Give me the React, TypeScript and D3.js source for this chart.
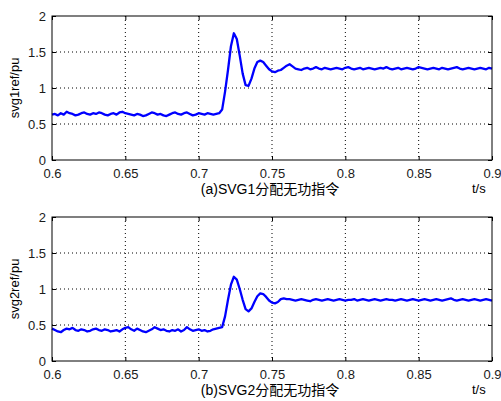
import React, { useRef, useEffect } from "react";
import * as d3 from "d3";

// sampled every 2 ms from 0.6 s to 0.9 s
const T0 = 0.6;
const DT = 0.002;

const svg1Pre = [
  0.63, 0.64, 0.62, 0.65, 0.63, 0.67, 0.65, 0.64, 0.62, 0.63,
  0.65, 0.66, 0.64, 0.63, 0.65, 0.64, 0.66, 0.65, 0.63, 0.62,
  0.64, 0.65, 0.63, 0.66, 0.67, 0.65, 0.64, 0.63, 0.62, 0.64,
  0.63, 0.61, 0.62, 0.64, 0.66, 0.65, 0.63, 0.64, 0.62, 0.61,
  0.63, 0.65, 0.66, 0.64, 0.63, 0.65, 0.66, 0.64, 0.62, 0.63,
  0.65, 0.64, 0.63, 0.65, 0.64, 0.63, 0.64, 0.65,
];
const svg1Step = [
  0.7, 0.95, 1.25, 1.58, 1.76, 1.68, 1.45, 1.2, 1.04, 1.03,
  1.13, 1.27, 1.36, 1.38, 1.36, 1.31, 1.26, 1.23, 1.22, 1.24,
  1.25, 1.28, 1.31, 1.33, 1.3, 1.27, 1.26, 1.25,
];
const svg1Post = [
  1.27, 1.28, 1.26, 1.27, 1.29, 1.27, 1.26, 1.28, 1.27, 1.26,
  1.27, 1.28, 1.27, 1.26, 1.28, 1.29, 1.27, 1.26, 1.27, 1.28,
  1.26, 1.27, 1.28, 1.27, 1.26, 1.27, 1.28, 1.27, 1.29, 1.27,
  1.26, 1.27, 1.28, 1.26, 1.27, 1.28, 1.27, 1.26, 1.27, 1.29,
  1.28, 1.27, 1.26, 1.27, 1.28, 1.27, 1.26, 1.28, 1.27, 1.26,
  1.27, 1.28, 1.29, 1.27, 1.26, 1.27, 1.28, 1.27, 1.26, 1.27,
  1.28, 1.27, 1.26, 1.28, 1.27,
];

const svg2Pre = [
  0.45, 0.43, 0.41, 0.4, 0.43, 0.45, 0.44, 0.46, 0.43, 0.42,
  0.44, 0.43, 0.41, 0.42, 0.44, 0.45, 0.43, 0.42, 0.44, 0.43,
  0.41, 0.42, 0.43, 0.41, 0.44, 0.46, 0.47, 0.44, 0.42, 0.45,
  0.43, 0.41, 0.4, 0.42, 0.44, 0.47, 0.45, 0.43, 0.44, 0.42,
  0.41, 0.43, 0.42, 0.44, 0.41, 0.43, 0.47, 0.44, 0.42, 0.43,
  0.44, 0.42, 0.43, 0.41, 0.42, 0.44, 0.45, 0.46,
];
const svg2Step = [
  0.47, 0.62, 0.85, 1.06, 1.17, 1.13, 1.0, 0.85, 0.72, 0.69,
  0.73, 0.82, 0.9, 0.94, 0.93, 0.89, 0.84, 0.81, 0.8, 0.82,
  0.86, 0.87, 0.86,
];
const svg2Post = [
  0.86, 0.85, 0.84, 0.85, 0.86, 0.85, 0.84, 0.83, 0.85, 0.86,
  0.85, 0.84, 0.85, 0.86, 0.85, 0.84, 0.85, 0.86, 0.85, 0.84,
  0.85, 0.85, 0.86, 0.84, 0.85, 0.86, 0.85, 0.84, 0.85, 0.86,
  0.85, 0.84, 0.85, 0.86, 0.85, 0.85, 0.84, 0.85, 0.86, 0.85,
  0.84, 0.85, 0.86, 0.85, 0.84, 0.85, 0.86, 0.85, 0.84, 0.85,
  0.86, 0.85, 0.84, 0.85, 0.86, 0.87, 0.85, 0.84, 0.85, 0.86,
  0.85, 0.84, 0.85, 0.86, 0.85, 0.84, 0.85, 0.86, 0.85, 0.84,
];

const xTicks = [0.6, 0.65, 0.7, 0.75, 0.8, 0.85, 0.9];
const yTicks = [0, 0.5, 1, 1.5, 2];

const panels = [
  { top: 16, ylabel: "svg1ref/pu", caption: "(a)SVG1分配无功指令", values: [...svg1Pre, ...svg1Step, ...svg1Post] },
  { top: 217, ylabel: "svg2ref/pu", caption: "(b)SVG2分配无功指令", values: [...svg2Pre, ...svg2Step, ...svg2Post] },
];

const FONT = "'Liberation Sans', Arial, 'Noto Sans CJK SC', sans-serif";

const App = () => {
  const chartRef = useRef<SVGSVGElement>(null);

  useEffect(() => {
    const svg = d3.select(chartRef.current);
    svg.selectAll("*").remove();

    const left = 52;
    const width = 440;
    const height = 144;

    panels.forEach((p) => {
      const g = svg.append("g").attr("transform", `translate(${left},${p.top})`);
      const x = d3.scaleLinear().domain([0.6, 0.9]).range([0, width]);
      const y = d3.scaleLinear().domain([0, 2]).range([height, 0]);

      // grid
      g.selectAll(".gx")
        .data(xTicks.slice(1, -1))
        .enter()
        .append("line")
        .attr("x1", (d) => x(d))
        .attr("x2", (d) => x(d))
        .attr("y1", 0)
        .attr("y2", height)
        .attr("stroke", "#000")
        .attr("stroke-width", 1)
        .attr("stroke-dasharray", "1,3");
      g.selectAll(".gy")
        .data(yTicks.slice(1, -1))
        .enter()
        .append("line")
        .attr("x1", 0)
        .attr("x2", width)
        .attr("y1", (d) => y(d))
        .attr("y2", (d) => y(d))
        .attr("stroke", "#000")
        .attr("stroke-width", 1)
        .attr("stroke-dasharray", "1,3");

      // data line
      const line = d3
        .line<number>()
        .x((_, i) => x(T0 + i * DT))
        .y((d) => y(d));
      g.append("path")
        .datum(p.values)
        .attr("d", line)
        .attr("fill", "none")
        .attr("stroke", "#0000ff")
        .attr("stroke-width", 2.3)
        .attr("stroke-linejoin", "round");

      // axes (inward ticks all round, like matlab)
      const tickLen = 4;
      const bottom = d3.axisBottom(x).tickValues(xTicks).tickSizeInner(-tickLen).tickSizeOuter(0).tickPadding(9)
        .tickFormat((d) => String(+d));
      const leftAx = d3.axisLeft(y).tickValues(yTicks).tickSizeInner(-tickLen).tickSizeOuter(0).tickPadding(6)
        .tickFormat((d) => String(+d));
      const topAx = d3.axisTop(x).tickValues(xTicks).tickSizeInner(-tickLen).tickSizeOuter(0).tickFormat(() => "");
      const rightAx = d3.axisRight(y).tickValues(yTicks).tickSizeInner(-tickLen).tickSizeOuter(0).tickFormat(() => "");

      const styleAxis = (sel: any) => {
        sel.select(".domain").remove();
        sel.selectAll("line").attr("stroke", "#000");
        sel.selectAll("text").attr("fill", "#1a1a1a").style("font-family", FONT).style("font-size", "13px");
      };

      g.append("g").attr("transform", `translate(0,${height})`).call(bottom).call(styleAxis);
      g.append("g").call(leftAx).call(styleAxis);
      g.append("g").call(topAx).call(styleAxis);
      g.append("g").attr("transform", `translate(${width},0)`).call(rightAx).call(styleAxis);

      g.append("rect")
        .attr("x", 0)
        .attr("y", 0)
        .attr("width", width)
        .attr("height", height)
        .attr("fill", "none")
        .attr("stroke", "#000")
        .attr("stroke-width", 1);

      // labels
      g.append("text")
        .attr("transform", `translate(${19 - left},${height / 2}) rotate(-90)`)
        .attr("text-anchor", "middle")
        .style("font-family", FONT)
        .style("font-size", "13px")
        .text(p.ylabel);

      g.append("text")
        .attr("x", width / 2 - 2)
        .attr("y", height + 34)
        .attr("text-anchor", "middle")
        .style("font-family", FONT)
        .style("font-size", "14px")
        .text(p.caption);

      g.append("text")
        .attr("x", 420)
        .attr("y", height + 33)
        .style("font-family", FONT)
        .style("font-size", "13px")
        .text("t/s");
    });
  }, []);

  return (
    <svg
      ref={chartRef}
      width={501}
      height={401}
      style={{ position: "absolute", left: 0, top: 0, background: "#fff" }}
    ></svg>
  );
};

export default App;
